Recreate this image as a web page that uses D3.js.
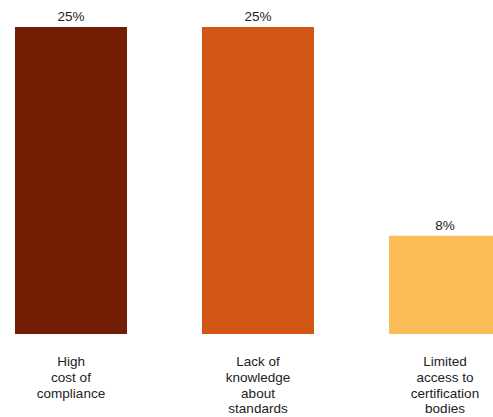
<!DOCTYPE html>
<html>
<head>
<meta charset="utf-8">
<script src="https://cdn.jsdelivr.net/npm/d3@7"></script>
<style>
  html, body { margin: 0; padding: 0; background: #fff; }
  svg { display: block; }
  text { font-family: "Liberation Sans", Arial, sans-serif; fill: #222; }
</style>
</head>
<body>
<svg id="chart" width="493" height="417"></svg>
<script>
// Barriers to adopting standards (share of respondents, %)
const categories = ["High cost of compliance", "Lack of knowledge about standards", "Limited access to certification bodies"];
const labelLines = [
  ["High", "cost of", "compliance"],
  ["Lack of", "knowledge", "about", "standards"],
  ["Limited", "access to", "certification", "bodies"]
];
const values = [25, 25, 8];
const colors = ["#721d04", "#d25716", "#fcbd58"];

const svg = d3.select("#chart");
const baseY = 334, topY = 27;

// The band range runs past the right edge; the last bar is clipped by the svg.
const x = d3.scaleBand()
  .domain(categories)
  .range([0, 516])
  .paddingInner(0.401)
  .paddingOuter(0.0802);

const y = d3.scaleLinear().domain([0, 25]).range([baseY, topY]);

const g = svg.append("g");

g.selectAll("rect.bar")
  .data(categories)
  .join("rect")
  .attr("class", "bar")
  .attr("x", d => x(d))
  .attr("width", x.bandwidth())
  .attr("y", (d, i) => y(values[i]))
  .attr("height", (d, i) => baseY - y(values[i]))
  .attr("fill", (d, i) => colors[i]);

g.selectAll("text.val")
  .data(categories)
  .join("text")
  .attr("class", "val")
  .attr("x", d => x(d) + x.bandwidth() / 2)
  .attr("y", (d, i) => y(values[i]) - 6)
  .attr("text-anchor", "middle")
  .attr("font-size", 13.5)
  .text((d, i) => values[i] + "%");

const lab = g.selectAll("text.cat")
  .data(categories)
  .join("text")
  .attr("class", "cat")
  .attr("text-anchor", "middle")
  .attr("font-size", 13.5)
  .attr("transform", d => `translate(${x(d) + x.bandwidth() / 2},366)`);

lab.selectAll("tspan")
  .data((d, i) => labelLines[i])
  .join("tspan")
  .attr("x", 0)
  .attr("y", (d, j) => j * 15.8)
  .text(d => d);
</script>
</body>
</html>
